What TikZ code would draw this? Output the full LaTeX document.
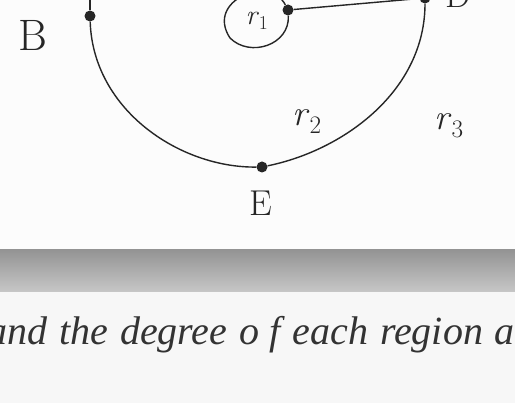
\documentclass[tikz,border=0pt]{standalone}
\usepackage{fontspec}
\newfontfamily\capfont{Liberation Serif}
\usepackage{tikz}
\usetikzlibrary{positioning, calc}

\tikzset{
  vertex/.style={circle, fill=black!85, inner sep=0pt, minimum size=11pt},
  edge/.style={black!85, line width=1.4pt},
  hand/.style={black!85, font=\fontsize{36}{36}\selectfont}
}

\begin{document}
\begin{tikzpicture}[x=1pt, y=-1pt]

  % --- Cornice e sfondo ---
  \useasboundingbox (0,0) rectangle (515,403);
  \clip (0,0) rectangle (515,403);
  \fill[black!3] (0,0) rectangle (515,403);
  \fill[white!99!black] (0,0) rectangle (515,250);
  \shade[top color=black!42, bottom color=black!22] (0,250) rectangle (515,292);

  % --- Vertici ---
  \node[vertex] (B) at (90,16) {};
  \node[vertex] (C) at (288,10) {};
  \node[vertex] (D) at (425,-2) {};
  \node[vertex] (E) at (262,167) {};
  \coordinate (Btop) at (90,-20);

  % --- Lati ---
  \draw[edge] (B) -- (Btop);
  \draw[edge] (C) -- (D);
  \draw[edge] (B) .. controls (93,110) and (180,168) .. (E);
  \draw[edge] (E) .. controls (345,150) and (425,90) .. (D);
  % cappio su C
  \draw[edge] (C) .. controls (270,-25) and (205,0) .. (230,38)
    .. controls (250,58) and (290,45) .. (C);

  % --- Etichette ---
  \node[hand, font=\fontsize{44}{44}\selectfont] (labB) at (33,35) {B};
  \node[hand] (labE) at (261,203) {E};
  \node[hand, anchor=base] (labD) at (458,8) {D};
  \node[hand, font=\fontsize{28}{28}\selectfont] (r1) at (257,21)
    {\textit{r}\textsubscript{1}};
  \node[hand] (r2) at (307,122) {\textit{r}\textsubscript{2}};
  \node[hand] (r3) at (449,126) {\textit{r}\textsubscript{3}};

  % --- Didascalia ---
  \node[anchor=base west, inner sep=0pt, black!80,
    font=\capfont\itshape\fontsize{40}{44}\selectfont] (caption) at (-13,345)
    {\spaceskip=0.3em and the degree o\hspace{0.25em}f each region a};

\end{tikzpicture}
\end{document}
